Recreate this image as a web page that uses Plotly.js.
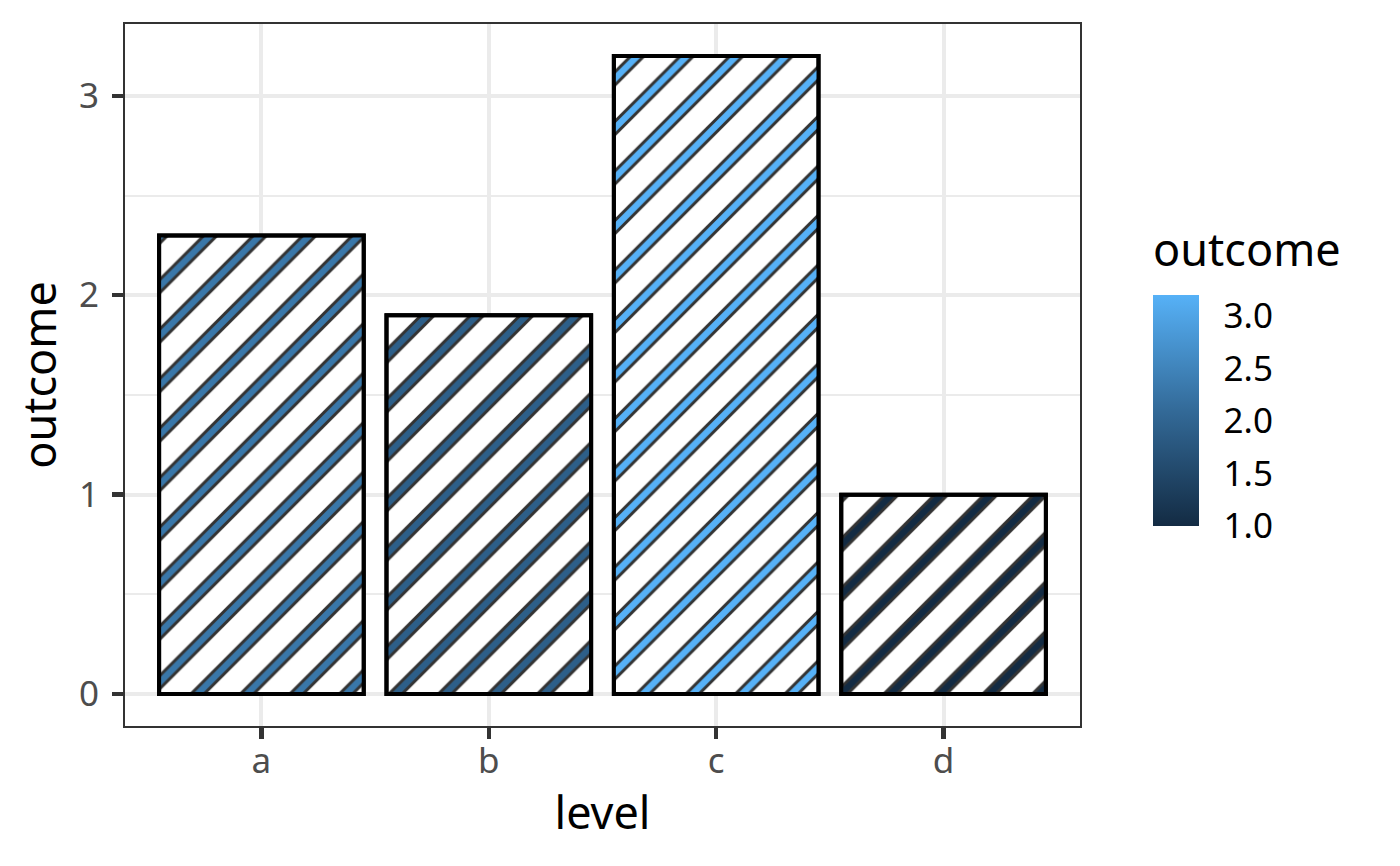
<!DOCTYPE html>
<html>
<head>
<meta charset="utf-8">
<script src="https://cdn.plot.ly/plotly-3.0.1.min.js"></script>
<style>
  body { margin: 0; background: #ffffff; }
  #plot { width: 1400px; height: 866px; }
</style>
</head>
<body>
<div id="plot"></div>
<script>
var levels = ["a", "b", "c", "d"];
var outcome = [2.3, 1.9, 3.2, 1.0];

var fontFamily = "Noto Sans, Open Sans, sans-serif";
var gradient = [[0, "#132B43"], [0.5, "#336A98"], [1, "#56B1F7"]];

// dark wide stripes underneath, the coloured ones go on top so they look outlined
var stripeBase = {
    x: levels,
    y: outcome,
    type: "bar",
    width: 0.9,
    showlegend: false,
    hoverinfo: "skip",
    marker: {
        color: "#ffffff",
        line: {color: "#000000", width: 4},
        pattern: {shape: "/", fillmode: "overlay", fgcolor: "#333333", fgopacity: 1,
                  size: 35, solidity: 0.35}
    }
};

var stripeFill = {
    x: levels,
    y: outcome,
    type: "bar",
    width: 0.9,
    showlegend: false,
    marker: {
        color: outcome,
        colorscale: gradient,
        cmin: 1,
        cmax: 3.2,
        showscale: true,
        line: {color: "#000000", width: 4},
        pattern: {shape: "/", fillmode: "replace", size: 35, solidity: 0.18},
        colorbar: {
            title: {text: "outcome", side: "top",
                    font: {family: fontFamily, size: 45, color: "#000000"}},
            x: 1.0765, xanchor: "left", xpad: 0,
            y: 0.4964, yanchor: "middle", ypad: 0,
            len: 0.423, lenmode: "fraction",
            thickness: 46,
            outlinewidth: 0,
            ticks: "outside", ticklen: 18, tickwidth: 1, tickcolor: "#ffffff",
            tickvals: [1, 1.5, 2, 2.5, 3],
            ticktext: ["1.0", "1.5", "2.0", "2.5", "3.0"],
            tickfont: {family: fontFamily, size: 35, color: "#000000"}
        }
    }
};

var layout = {
    width: 1400,
    height: 866,
    margin: {l: 125, r: 320, t: 24, b: 140},
    paper_bgcolor: "#ffffff",
    plot_bgcolor: "#ffffff",
    barmode: "overlay",
    font: {family: fontFamily},
    xaxis: {
        type: "category",
        range: [-0.6, 3.6],
        showgrid: true, gridcolor: "#EBEBEB", gridwidth: 4,
        zeroline: false,
        showline: true, mirror: true, linecolor: "#333333", linewidth: 2,
        ticks: "outside", ticklen: 11, tickwidth: 4.5, tickcolor: "#333333",
        tickfont: {size: 35, color: "#4D4D4D"},
        ticklabelstandoff: -8,
        title: {text: "level", font: {size: 45, color: "#000000"}, standoff: 15}
    },
    yaxis: {
        range: [-0.16, 3.36],
        tickvals: [0, 1, 2, 3],
        showgrid: true, gridcolor: "#EBEBEB", gridwidth: 4,
        minor: {dtick: 0.5, tick0: 0, showgrid: true, gridcolor: "#EBEBEB", gridwidth: 2, ticks: ""},
        zeroline: false,
        showline: true, mirror: true, linecolor: "#333333", linewidth: 2,
        ticks: "outside", ticklen: 11, tickwidth: 4.5, tickcolor: "#333333",
        tickfont: {size: 35, color: "#4D4D4D"},
        ticklabelstandoff: 6,
        title: {text: "outcome", font: {size: 45, color: "#000000"}, standoff: 8}
    }
};

Plotly.newPlot("plot", [stripeBase, stripeFill], layout, {displayModeBar: false, staticPlot: true});
</script>
</body>
</html>
